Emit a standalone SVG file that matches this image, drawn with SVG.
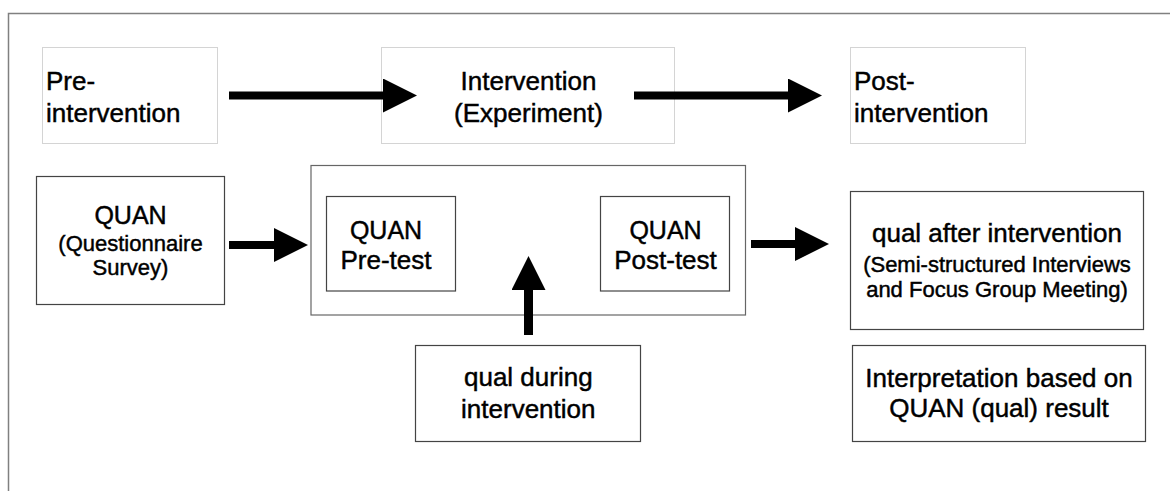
<svg xmlns="http://www.w3.org/2000/svg" width="1170" height="491" viewBox="0 0 1170 491">
<defs>
<style>
.t{font-family:"Liberation Sans",Arial,sans-serif;fill:#000;stroke:#000;stroke-width:0.45;}
.big{font-size:26px;}
.sm{font-size:22px;}
.mid{text-anchor:middle;}
.light{fill:#fff;stroke:#d4d4d4;stroke-width:1;}
.dark{fill:#fff;stroke:#444;stroke-width:1.2;}
.arr{stroke:#000;stroke-width:8;fill:none;marker-end:url(#head);}
</style>
<marker id="head" markerUnits="userSpaceOnUse" markerWidth="34" markerHeight="34" refX="0" refY="17" orient="auto">
<path d="M0,0 L34,17 L0,34 z" fill="#000"/>
</marker>
</defs>
<rect width="1170" height="491" fill="#fff"/>
<path id="frame" d="M8.5,491 V13.5 H1170" fill="none" stroke="#808080" stroke-width="1.5"/>

<g id="pre">
<rect class="light" x="42.5" y="47.5" width="175" height="96"/>
<text class="t big" x="46" y="90">Pre-</text>
<text class="t big" x="46" y="121.5">intervention</text>
</g>
<g id="intervention">
<rect class="light" x="381.5" y="47.5" width="293" height="96"/>
<text class="t big mid" x="528.5" y="90">Intervention</text>
<text class="t big mid" x="528.5" y="121.5">(Experiment)</text>
</g>
<g id="post">
<rect class="light" x="850.5" y="47.5" width="175" height="96"/>
<text class="t big" x="854" y="90">Post-</text>
<text class="t big" x="854" y="121.5">intervention</text>
</g>

<g id="quan-survey">
<rect class="dark" x="36.5" y="176.5" width="188" height="128"/>
<text class="t mid" x="130.5" y="224.3" font-size="25">QUAN</text>
<text class="t sm mid" x="130.5" y="250.7">(Questionnaire</text>
<text class="t sm mid" x="130.5" y="275">Survey)</text>
</g>

<g id="experiment-container">
<rect fill="#fff" stroke="#666" stroke-width="1.2" x="311" y="165.5" width="434.5" height="149.5"/>
</g>
<g id="pretest">
<rect class="dark" x="326.5" y="196.5" width="129" height="94.5"/>
<text class="t mid" x="386" y="239.3" font-size="25">QUAN</text>
<text class="t big mid" x="386" y="269">Pre-test</text>
</g>
<g id="posttest">
<rect class="dark" x="600.5" y="196.5" width="129" height="94.5"/>
<text class="t mid" x="665.5" y="239.3" font-size="25">QUAN</text>
<text class="t big mid" x="665.5" y="269.2">Post-test</text>
</g>

<g id="qual-during">
<rect class="dark" x="415.5" y="345.5" width="225" height="96"/>
<text class="t big mid" x="528.3" y="386">qual during</text>
<text class="t big mid" x="528.3" y="418">intervention</text>
</g>

<g id="qual-after">
<rect class="dark" x="850.5" y="191.5" width="293" height="138"/>
<text class="t big mid" x="997" y="242.3">qual after intervention</text>
<text class="t sm mid" x="997" y="271.7">(Semi-structured Interviews</text>
<text class="t sm mid" x="997" y="296.7">and Focus Group Meeting)</text>
</g>

<g id="interpretation">
<rect class="dark" x="852.5" y="345.5" width="293" height="96"/>
<text class="t big mid" x="999" y="386.5">Interpretation based on</text>
<text class="t big mid" x="999" y="417.3">QUAN (qual) result</text>
</g>

<g id="connectors">
<line class="arr" x1="229" y1="95.5" x2="383" y2="95.5"/>
<line class="arr" x1="634" y1="95.5" x2="788" y2="95.5"/>
<line class="arr" x1="229" y1="245" x2="274" y2="245"/>
<line class="arr" x1="751" y1="244" x2="795" y2="244"/>
<line class="arr" style="stroke-width:9" x1="528.5" y1="335" x2="528.5" y2="290"/>
</g>
</svg>
